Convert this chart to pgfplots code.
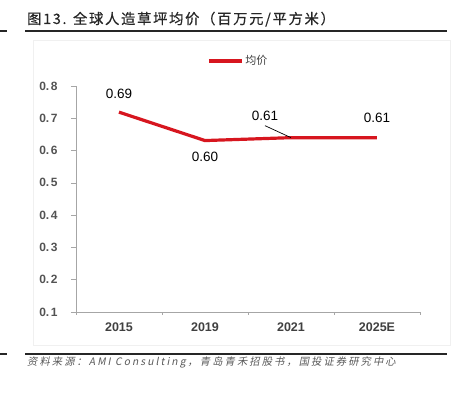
\documentclass[border=0pt]{standalone}
\usepackage{pgfplots}
\pgfplotsset{compat=1.18}
\usepackage{fontspec}
\setmainfont{Liberation Sans}
\newfontfamily\cjk{Noto Sans CJK SC}
\newfontfamily\cjktitle[LetterSpace=12, FakeBold=0.6]{Noto Sans CJK SC}
\newfontfamily\cjkit[FakeSlant=0.2, LetterSpace=20]{Noto Sans CJK SC}
\definecolor{linered}{HTML}{D7161F}
\definecolor{axgray}{HTML}{A6A6A6}
\definecolor{txtgray}{HTML}{404040}
\begin{document}
\begin{tikzpicture}[x=1pt,y=1pt]
\path[use as bounding box] (0,0) rectangle (456,398);
% title and rules
\node[anchor=base west, inner sep=0pt, text=black!85] at (27,374) {\cjktitle\fontsize{14.3}{16}\selectfont 图13. 全球人造草坪均价（百万元/平方米）};
\draw[line width=1.2pt, black!85] (25,367) -- (447,367);
\draw[line width=1.2pt, black!85] (0,367) -- (7,367);
\draw[line width=1.2pt, black!85] (25,44) -- (447,44);
\draw[line width=1.2pt, black!85] (0,44) -- (7,44);
\draw[gray!12, line width=0.6pt] (33,53) rectangle (450,358);
\node[anchor=west, inner sep=0pt, text=black!65] at (27,36) {\cjkit\fontsize{10.3}{12}\selectfont 资料来源：AMI Consulting，青岛青禾招股书，国投证券研究中心};
\begin{axis}[
  at={(76pt,86pt)}, anchor=south west,
  scale only axis, width=344pt, height=226pt,
  xmin=-0.5, xmax=3.5, ymin=0.1, ymax=0.8,
  axis lines=left, axis line style={axgray, line width=0.6pt, -},
  xtick={0,1,2,3}, xticklabels={2015,2019,2021,2025E},
  minor xtick={-0.5,0.5,1.5,2.5,3.5},
  ytick={0.1,0.2,0.3,0.4,0.5,0.6,0.7,0.8},
  yticklabels={0.\kern1.5pt 1,0.\kern1.5pt 2,0.\kern1.5pt 3,0.\kern1.5pt 4,0.\kern1.5pt 5,0.\kern1.5pt 6,0.\kern1.5pt 7,0.\kern1.5pt 8},
  tick align=outside,
  major x tick style={draw=none},
  minor x tick style={axgray, line width=0.6pt},
  minor tick length=3pt,
  y tick style={axgray, line width=0.6pt},
  major tick length=5pt,
  xticklabel style={font=\fontsize{12.5}{14}\selectfont\bfseries, text=txtgray, yshift=-2pt},
  yticklabel style={font=\fontsize{12}{14}\selectfont\bfseries, text=txtgray!90, xshift=-10pt},
  clip=false,
  legend style={at={(rel axis cs:0.381,1.111)}, anchor=west, draw=none, fill=none, inner sep=0pt,
    font=\cjk\fontsize{11}{12}\selectfont, text=txtgray},
  legend image code/.code={\draw[#1, line width=3.2pt] (0pt,0pt) -- (33pt,0pt);},
]
\addplot[linered, line width=3.2pt, line join=round] coordinates {(0,0.719) (1,0.631) (2,0.640) (3,0.640)};
\addlegendentry{均价}
\addplot[draw=none, forget plot, nodes near coords, point meta=explicit symbolic,
  nodes near coords style={font=\fontsize{13.5}{15}\selectfont, text=black, anchor=center, yshift=18pt}]
  coordinates {(0,0.719)[0.69]};
\addplot[draw=none, forget plot, nodes near coords, point meta=explicit symbolic,
  nodes near coords style={font=\fontsize{13.5}{15}\selectfont, text=black, anchor=center, yshift=-16pt}]
  coordinates {(1,0.631)[0.60]};
\addplot[draw=none, forget plot, nodes near coords, point meta=explicit symbolic,
  nodes near coords style={font=\fontsize{13.5}{15}\selectfont, text=black, anchor=center, yshift=20pt}]
  coordinates {(3,0.640)[0.61]};
\addplot[draw=none, forget plot, nodes near coords, point meta=explicit symbolic,
  nodes near coords style={font=\fontsize{13.5}{15}\selectfont, text=black, anchor=center, xshift=-26pt, yshift=22pt}]
  coordinates {(2,0.640)[0.61]};
\draw[black, line width=0.7pt] (axis cs:2,0.640) -- ++(-26pt,12pt);
\end{axis}
\end{tikzpicture}
\end{document}
